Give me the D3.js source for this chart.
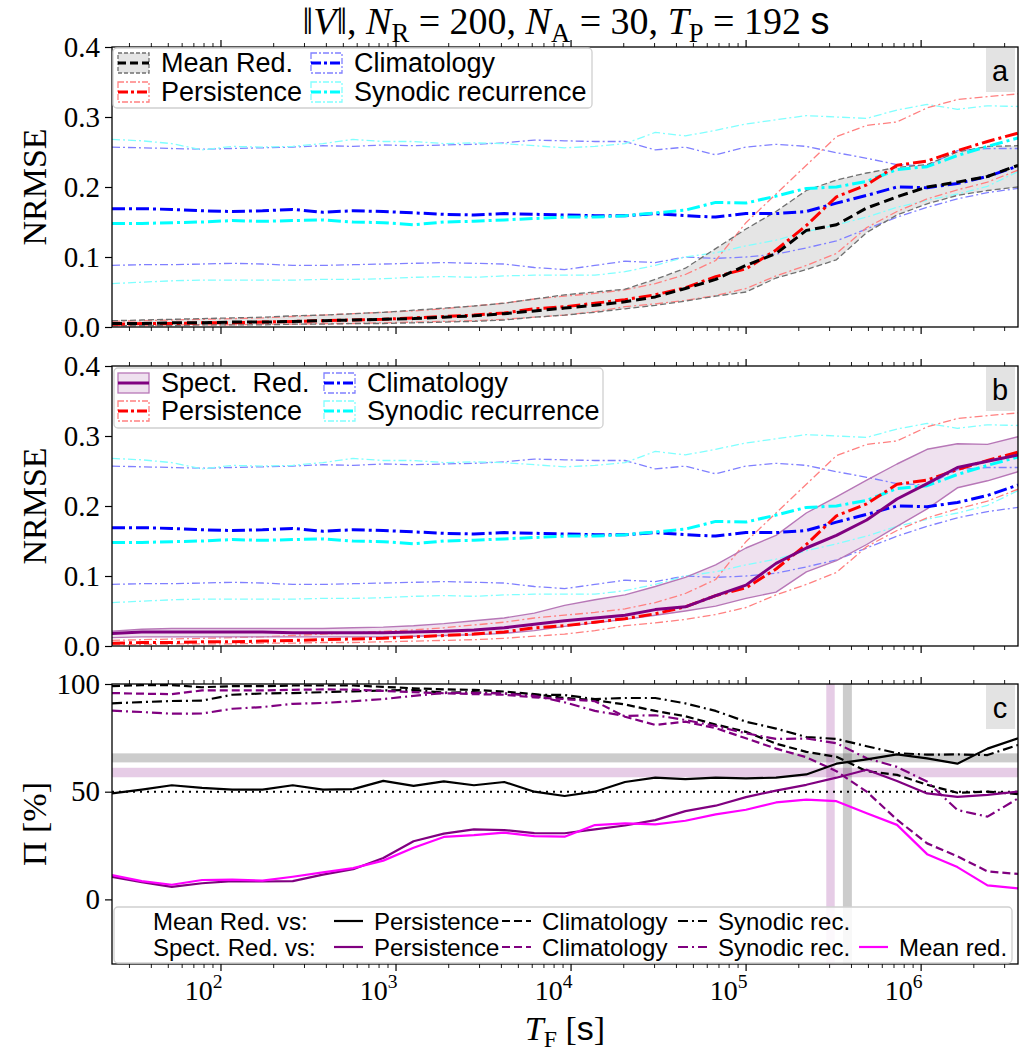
<!DOCTYPE html>
<meta charset="utf-8">
<style>
  body { margin: 0; background: #fff; }
  text { white-space: pre; }
</style>
<body>
<div id="chart"></div>
<script src="https://d3js.org/d3.v7.min.js"></script>
<script>

// forecast horizons T_F [s]
var horizons = [24, 35.5, 52.7, 78.5, 116.7, 173.8, 258.8, 384.6, 572.8, 851.4, 1268, 1888, 2805, 4178, 6209, 9247,
  13772, 20464, 30479, 45290, 67453, 100462, 149279, 222331, 330372, 492040, 732825, 1088930, 1621810, 2409920, 3600000];

// NRMSE, panels a and b
var meanRed     = [.005,.005,.006,.006,.007,.007,.008,.009,.010,.011,.012,.014,.016,.019,.023,.027,.031,.036,.043,.055,.068,.088,.105,.138,.146,.170,.186,.200,.207,.215,.231];
var meanRedLow  = [.002,.002,.002,.003,.003,.003,.004,.004,.005,.005,.006,.007,.008,.010,.014,.017,.021,.026,.031,.037,.044,.050,.070,.082,.096,.135,.160,.176,.188,.195,.200];
var meanRedHigh = [.009,.010,.011,.012,.013,.014,.016,.017,.019,.021,.024,.027,.030,.034,.040,.046,.050,.054,.068,.084,.112,.140,.165,.195,.210,.220,.228,.232,.250,.258,.259];

var persist     = [.004,.005,.005,.006,.006,.007,.008,.009,.010,.011,.013,.015,.017,.020,.026,.029,.034,.039,.046,.056,.072,.083,.110,.145,.186,.203,.231,.237,.252,.265,.277];
var persistLow  = [.002,.002,.003,.003,.003,.004,.004,.005,.005,.006,.007,.008,.009,.011,.014,.017,.022,.029,.033,.038,.045,.055,.073,.088,.105,.142,.165,.183,.196,.207,.224];
var persistHigh = [.008,.009,.010,.011,.012,.013,.015,.017,.019,.021,.023,.026,.030,.034,.040,.044,.048,.053,.062,.075,.095,.149,.190,.231,.272,.288,.293,.313,.325,.329,.333];

var clim        = [.169,.169,.168,.166,.165,.166,.168,.164,.166,.165,.163,.161,.160,.162,.161,.160,.159,.159,.162,.159,.157,.162,.162,.165,.177,.188,.200,.199,.205,.215,.230];
var climLow     = [.088,.089,.089,.090,.091,.090,.088,.088,.089,.090,.091,.092,.091,.090,.085,.082,.088,.094,.092,.100,.098,.100,.104,.113,.123,.140,.157,.171,.183,.192,.198];
var climHigh    = [.257,.256,.255,.254,.255,.256,.257,.259,.258,.260,.259,.260,.261,.263,.267,.266,.265,.265,.253,.257,.246,.257,.261,.258,.249,.241,.232,.230,.252,.255,.255];

var synodic     = [.148,.148,.149,.150,.152,.151,.152,.153,.150,.149,.146,.150,.151,.153,.155,.157,.157,.159,.163,.167,.178,.177,.187,.198,.200,.208,.225,.229,.245,.258,.270];
var synodicLow  = [.062,.064,.066,.067,.067,.067,.067,.068,.068,.069,.071,.072,.071,.073,.074,.074,.074,.079,.088,.100,.106,.116,.124,.136,.146,.157,.171,.181,.190,.201,.222];
var synodicHigh = [.268,.266,.262,.253,.258,.257,.258,.262,.268,.265,.265,.262,.263,.262,.259,.256,.258,.262,.278,.273,.281,.290,.296,.302,.300,.298,.310,.318,.311,.316,.315];

var spectRed     = [.018,.020,.020,.020,.020,.020,.019,.019,.019,.019,.020,.021,.023,.026,.031,.036,.040,.044,.052,.056,.072,.087,.118,.140,.158,.180,.210,.232,.255,.264,.273];
var spectRedLow  = [.012,.013,.013,.013,.013,.013,.013,.013,.013,.013,.014,.015,.016,.018,.022,.028,.033,.038,.044,.050,.057,.068,.077,.106,.122,.145,.171,.196,.226,.236,.249];
var spectRedHigh = [.021,.024,.025,.025,.025,.025,.025,.025,.026,.027,.029,.032,.036,.040,.047,.058,.066,.073,.085,.098,.116,.140,.158,.190,.213,.237,.260,.281,.289,.288,.299];

// Pi [%], panel c
var mrVsPers = [49.2,51,53,51.8,51,51,53,51,51.2,55,52.7,54.8,53,54.5,50,48,50,54.5,56.5,55.8,56.5,56.2,56.5,58,63,65,67.3,65.5,63,70,74.8];
var mrVsClim = [99,99.5,99.5,98.5,99,99,99.3,99.3,99.3,98.7,98,97.5,97.3,96.5,95.3,93.5,92.5,90.5,87.5,85,81.2,77.8,72.3,68.5,66.2,59.5,57.8,53.2,49.5,50,48.9];
var mrVsSyn  = [91,91.6,92.1,92.3,95,95.6,95.8,96.2,96.6,97,97.2,96,96.2,95.6,95,94.9,93,93.5,93.5,91,87.5,82.5,79.3,75.4,74.5,71.1,67.9,67.2,67.3,67,71.7];
var srVsPers = [10.5,8,5.8,7.5,8.5,8.3,8.5,11.5,14,19.2,27,30.5,32.5,32.2,30.8,30.7,32.5,34.3,36.8,41,43.5,47.5,50.5,53.2,56.5,60.2,55,49.2,47.6,48.5,50];
var srVsClim = [95.8,95.5,95.3,97,97,97,97.3,97.5,97.4,96.8,96.2,95.7,95.3,95,93.8,93,92,84.8,81,82.5,79.5,74.8,70,66,59.5,50,37,26,20,13,11.8];
var srVsSyn  = [87.6,87,86.2,86.3,88.5,89.3,90.8,91.2,92,93,94.5,95.8,95.9,95.6,94.5,91.5,87.5,85.2,85.5,83.3,80.5,77.1,74.5,74.7,72.5,65.5,61.5,54.7,41.5,38.4,46.9];
var srVsMr   = [11.3,8.5,6.8,9,9.2,8.7,10.5,12.5,14.5,18,24,29,29.8,31,29.4,29.1,34.5,35.3,34.8,36.5,39.5,41.6,45,46.3,45.6,40,34.6,21,15,6.5,5.1];

// skill bands in panel c
var piBandMean  = [63.6, 67.8], piBandSpect = [56.7, 61.1];
var tfBandMean  = [359700, 404800], tfBandSpect = [289000, 323000];

var nrmseTicks = [0, 0.1, 0.2, 0.3, 0.4];
var piTicks = [0, 50, 100];
var decades = [2, 3, 4, 5, 6];

var SERIF = "Liberation Serif", SANS = "Liberation Sans";
var left = 112, right = 1018, H = 280;

var svg = d3.select("#chart").append("svg")
    .attr("width", 1019).attr("height", 1053)
    .style("display", "block");

var x = d3.scaleLog().domain([24, 3.6e6]).range([left, right]);

// minor ticks of the log axis
var minors = [];
for (var d = 10; d <= 1e6; d *= 10)
  for (var m = 2; m < 10; m++)
    if (m * d >= 24 && m * d <= 3.6e6) minors.push(m * d);
var majors = decades.map(function(e) { return Math.pow(10, e); });

function rich(sel, parts, size) {
  var shift = 0;
  parts.forEach(function(p) {
    var ts = sel.append("tspan").text(p.t);
    var target = p.sub ? size * 0.2 : p.sup ? -size * 0.42 : 0;
    if (target !== shift) { ts.attr("dy", target - shift); shift = target; }
    if (p.sub || p.sup) ts.attr("font-size", size * 0.7);
    if (p.it) ts.attr("font-style", "italic");
    if (p.sans) ts.attr("font-family", SANS);
  });
}

function panel(top, domain, id) {
  var y = d3.scaleLinear().domain(domain).range([top + H, top]);
  var g = svg.append("g");
  svg.append("clipPath").attr("id", id).append("rect")
    .attr("x", left).attr("y", top).attr("width", right - left).attr("height", H);
  var plot = g.append("g").attr("clip-path", "url(#" + id + ")");
  return {y: y, g: g, plot: plot, top: top};
}

function frame(p, ticks, fmt, letter) {
  var g = p.g, y = p.y, top = p.top;
  g.append("g").attr("transform", "translate(" + left + ",0)")
    .call(d3.axisLeft(y).tickValues(ticks).tickSize(7).tickPadding(5).tickFormat(fmt))
    .call(function(a) { a.select(".domain").remove(); })
    .attr("font-family", SERIF).attr("font-size", 29)
    .selectAll("line").attr("stroke-width", 1.2);
  [[top + H, d3.axisBottom], [top, d3.axisTop]].forEach(function(s) {
    g.append("g").attr("transform", "translate(0," + s[0] + ")")
      .call(s[1](x).tickValues(minors).tickSize(4).tickFormat(""))
      .call(function(a) { a.select(".domain").remove(); })
      .selectAll("line").attr("stroke-width", 0.9);
    g.append("g").attr("transform", "translate(0," + s[0] + ")")
      .call(s[1](x).tickValues(majors).tickSize(7).tickFormat(""))
      .call(function(a) { a.select(".domain").remove(); })
      .selectAll("line").attr("stroke-width", 1.2);
  });
  g.append("rect").attr("x", left).attr("y", top).attr("width", right - left).attr("height", H)
    .attr("fill", "none").attr("stroke", "#000").attr("stroke-width", 1.3);
  g.append("rect").attr("x", 986).attr("y", top + 1).attr("width", 29).attr("height", 44)
    .attr("fill", "#e3e3e3");
  g.append("text").attr("x", 1000).attr("y", top + 24).attr("text-anchor", "middle")
    .attr("dominant-baseline", "central").attr("font-family", SANS).attr("font-size", 29)
    .text(letter);
}

function line(p, vals, color, width, dash) {
  var gen = d3.line().x(function(v, i) { return x(horizons[i]); }).y(function(v) { return p.y(v); });
  p.plot.append("path").attr("d", gen(vals)).attr("fill", "none")
    .attr("stroke", color).attr("stroke-width", width)
    .attr("stroke-dasharray", dash || null)
    .attr("stroke-linejoin", "round");
}

function band(p, lo, hi, fill) {
  var gen = d3.area().x(function(v, i) { return x(horizons[i]); })
    .y0(function(v, i) { return p.y(lo[i]); }).y1(function(v) { return p.y(v); });
  p.plot.append("path").attr("d", gen(hi)).attr("fill", fill);
}

var DD = "13,4,3,4", dd = "8,3,2,3", DASH = "10,5", dash = "6,3";

function references(p) {
  line(p, climLow, "#8080ff", 1.3, dd); line(p, climHigh, "#8080ff", 1.3, dd);
  line(p, synodicLow, "#80ffff", 1.3, dd); line(p, synodicHigh, "#80ffff", 1.3, dd);
  line(p, persistLow, "#ff8080", 1.3, dd); line(p, persistHigh, "#ff8080", 1.3, dd);
}
function referencesThick(p) {
  line(p, clim, "#0000ff", 3, DD);
  line(p, synodic, "#00ffff", 3, DD);
  line(p, persist, "#ff0000", 3, DD);
}

// legend helpers
function legendBox(x0, y0, w, h) {
  svg.append("rect").attr("x", x0).attr("y", y0).attr("width", w).attr("height", h).attr("rx", 4)
    .attr("fill", "#fff").attr("fill-opacity", 0.85).attr("stroke", "#d0d0d0").attr("stroke-width", 1.3);
}
function patchHandle(x0, yc, fill, edge, edgeDash, color, lineDash, label, size) {
  svg.append("rect").attr("x", x0).attr("y", yc - 10).attr("width", 31).attr("height", 20)
    .attr("fill", fill).attr("stroke", edge).attr("stroke-width", 1.3).attr("stroke-dasharray", edgeDash || null);
  svg.append("line").attr("x1", x0).attr("x2", x0 + 31).attr("y1", yc).attr("y2", yc)
    .attr("stroke", color).attr("stroke-width", 3).attr("stroke-dasharray", lineDash || null);
  svg.append("text").attr("x", x0 + 43).attr("y", yc).attr("dominant-baseline", "central")
    .attr("font-family", SANS).attr("font-size", size).text(label);
}
function lineHandle(x0, yc, color, lineDash, label) {
  if (color) svg.append("line").attr("x1", x0).attr("x2", x0 + 29).attr("y1", yc).attr("y2", yc)
    .attr("stroke", color).attr("stroke-width", 2.2).attr("stroke-dasharray", lineDash || null);
  svg.append("text").attr("x", x0 + 40).attr("y", yc).attr("dominant-baseline", "central")
    .attr("font-family", SANS).attr("font-size", 24).text(label);
}

// ---------- panel a ----------
var pa = panel(47, [0, 0.4], "clipA");
band(pa, meanRedLow, meanRedHigh, "#e5e5e5");
references(pa);
line(pa, meanRedLow, "#707070", 1.3, dash); line(pa, meanRedHigh, "#707070", 1.3, dash);
referencesThick(pa);
line(pa, meanRed, "#000", 3, DASH);
frame(pa, nrmseTicks, d3.format(".1f"), "a");

legendBox(113, 48, 479, 60);
patchHandle(118, 63, "#e5e5e5", "#707070", "4,2", "#000", "8,4", "Mean Red.", 27);
patchHandle(118, 92, "#fff", "#ff8080", "6,2,2,2", "#ff0000", "10,3,3,3", "Persistence", 27);
patchHandle(311, 63, "#fff", "#8080ff", "6,2,2,2", "#0000ff", "10,3,3,3", "Climatology", 27);
patchHandle(311, 92, "#fff", "#80ffff", "6,2,2,2", "#00ffff", "10,3,3,3", "Synodic recurrence", 27);

// ---------- panel b ----------
var pb = panel(366, [0, 0.4], "clipB");
band(pb, spectRedLow, spectRedHigh, "#efe1ef");
references(pb);
line(pb, spectRedLow, "#b777b7", 1.4); line(pb, spectRedHigh, "#b777b7", 1.4);
referencesThick(pb);
line(pb, spectRed, "#800080", 3);
frame(pb, nrmseTicks, d3.format(".1f"), "b");

legendBox(114, 368, 489, 60);
patchHandle(118, 383, "#efe1ef", "#b777b7", null, "#800080", null, "Spect.  Red.", 27);
patchHandle(118, 411, "#fff", "#ff8080", "6,2,2,2", "#ff0000", "10,3,3,3", "Persistence", 27);
patchHandle(324, 383, "#fff", "#8080ff", "6,2,2,2", "#0000ff", "10,3,3,3", "Climatology", 27);
patchHandle(324, 411, "#fff", "#80ffff", "6,2,2,2", "#00ffff", "10,3,3,3", "Synodic recurrence", 27);

// ---------- panel c ----------
var pc = panel(684, [-30, 100], "clipC");
pc.plot.append("rect").attr("x", left).attr("width", right - left)
  .attr("y", pc.y(piBandMean[1])).attr("height", pc.y(piBandMean[0]) - pc.y(piBandMean[1]))
  .attr("fill", "#000").attr("fill-opacity", 0.2);
pc.plot.append("rect").attr("x", left).attr("width", right - left)
  .attr("y", pc.y(piBandSpect[1])).attr("height", pc.y(piBandSpect[0]) - pc.y(piBandSpect[1]))
  .attr("fill", "#800080").attr("fill-opacity", 0.2);
pc.plot.append("rect").attr("y", 684).attr("height", H)
  .attr("x", x(tfBandMean[0])).attr("width", x(tfBandMean[1]) - x(tfBandMean[0]))
  .attr("fill", "#000").attr("fill-opacity", 0.2);
pc.plot.append("rect").attr("y", 684).attr("height", H)
  .attr("x", x(tfBandSpect[0])).attr("width", x(tfBandSpect[1]) - x(tfBandSpect[0]))
  .attr("fill", "#800080").attr("fill-opacity", 0.2);
pc.plot.append("line").attr("x1", left).attr("x2", right).attr("y1", pc.y(50)).attr("y2", pc.y(50))
  .attr("stroke", "#000").attr("stroke-width", 2).attr("stroke-dasharray", "2,5");

var cD = "8,4", cDD = "10,4,2,4";
line(pc, mrVsClim, "#000", 2.2, cD);
line(pc, mrVsSyn, "#000", 2.2, cDD);
line(pc, srVsClim, "#800080", 2.2, cD);
line(pc, srVsSyn, "#800080", 2.2, cDD);
line(pc, mrVsPers, "#000", 2.2);
line(pc, srVsPers, "#800080", 2.2);
line(pc, srVsMr, "#ff00ff", 2.2);
frame(pc, piTicks, d3.format("d"), "c");

legendBox(114, 907, 898, 56);
lineHandle(113, 921, null, null, "Mean Red. vs:");
lineHandle(334, 921, "#000", null, "Persistence");
lineHandle(502, 921, "#000", cD, "Climatology");
lineHandle(678, 921, "#000", cDD, "Synodic rec.");
lineHandle(113, 947, null, null, "Spect. Red. vs:");
lineHandle(334, 947, "#800080", null, "Persistence");
lineHandle(502, 947, "#800080", cD, "Climatology");
lineHandle(678, 947, "#800080", cDD, "Synodic rec.");
lineHandle(859, 947, "#ff00ff", null, "Mean red.");

// x tick labels
majors.forEach(function(v, i) {
  var t = svg.append("text").attr("x", x(v) + 2).attr("y", 1000).attr("text-anchor", "end")
    .attr("font-family", SERIF).attr("font-size", 28);
  rich(t, [{t: "10"}, {t: String(decades[i]), sup: true}], 28);
});

// axis labels and title
var xl = svg.append("text").attr("x", 565).attr("y", 1040).attr("text-anchor", "middle")
  .attr("font-family", SERIF).attr("font-size", 34);
rich(xl, [{t: "T", it: true}, {t: "F", sub: true}, {t: " ["}, {t: "s", sans: true}, {t: "]"}], 34);

[[pa, "NRMSE"], [pb, "NRMSE"], [pc, "Π [%]"]].forEach(function(l) {
  svg.append("text").attr("transform", "translate(34," + (l[0].top + H / 2) + ") rotate(-90)")
    .attr("text-anchor", "middle").attr("dominant-baseline", "central")
    .attr("font-family", SERIF).attr("font-size", 34).text(l[1]);
});

var title = svg.append("text").attr("x", 566).attr("y", 34).attr("text-anchor", "middle")
  .attr("font-family", SERIF).attr("font-size", 38);
rich(title, [{t: "‖"}, {t: "V", it: true}, {t: "‖, "}, {t: "N", it: true}, {t: "R", sub: true},
  {t: " = 200, "}, {t: "N", it: true}, {t: "A", sub: true}, {t: " = 30, "}, {t: "T", it: true},
  {t: "P", sub: true}, {t: " = 192 "}, {t: "s", sans: true}], 38);

</script>
